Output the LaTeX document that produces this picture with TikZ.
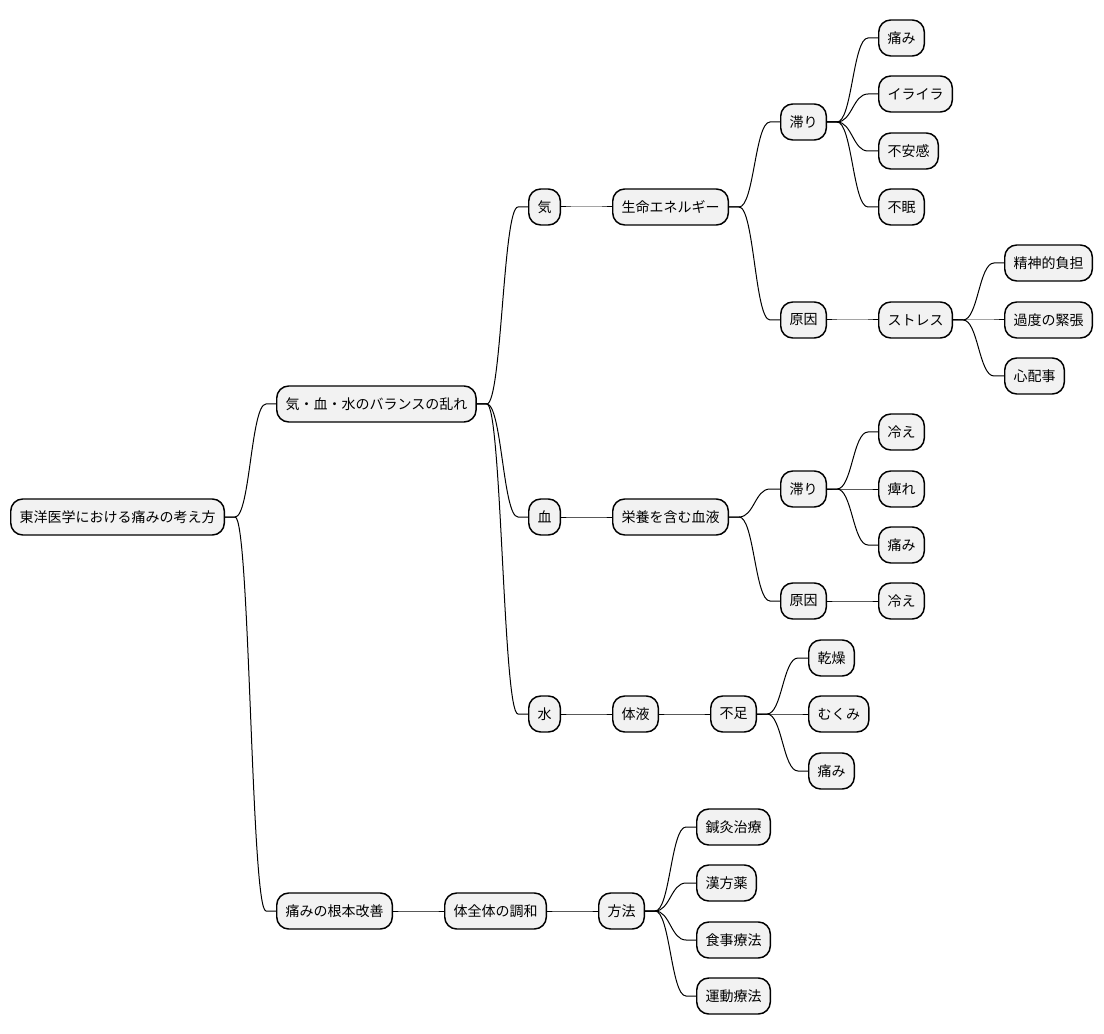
\documentclass[tikz,border=0pt]{standalone}
\usepackage{fontspec}
\setmainfont{Noto Sans CJK JP}
\usetikzlibrary{positioning}

\begin{document}
\begin{tikzpicture}[x=0.75pt,y=-0.75pt,
    topic/.style={draw,line width=1.1pt,rounded corners=9pt,fill=black!5,
      anchor=west,minimum height=27pt,inner xsep=6.6pt,inner ysep=0pt,
      font=\fontsize{10.5pt}{12pt}\selectfont},
    branch/.style={line width=0.75pt}]
  \useasboundingbox (0,0) rectangle (1104,1034);
  % root and main branches
  \node[topic](root) at (10,517){東洋医学における痛みの考え方};
  \node[topic](bal) at (276,404){気・血・水のバランスの乱れ};
  \node[topic](kon) at (276,911){痛みの根本改善};
  \node[topic](ki) at (528,207){気};
  \node[topic](ketsu) at (528,517){血};
  \node[topic](mizu) at (528,714){水};
  % ki
  \node[topic](seimei) at (612,207){生命エネルギー};
  \node[topic](kitodo) at (780,122){滞り};
  \node[topic](kigen) at (780,320){原因};
  \node[topic](kiita) at (878,38){痛み};
  \node[topic](irai) at (878,94){イライラ};
  \node[topic](fuan) at (878,151){不安感};
  \node[topic](fumin) at (878,207){不眠};
  \node[topic](stress) at (878,320){ストレス};
  \node[topic](seishin) at (1004,263){精神的負担};
  \node[topic](kinchou) at (1004,320){過度の緊張};
  \node[topic](shinpai) at (1004,376){心配事};
  % ketsu
  \node[topic](eiyo) at (612,517){栄養を含む血液};
  \node[topic](ketodo) at (780,489){滞り};
  \node[topic](kegen) at (780,601){原因};
  \node[topic](hie) at (878,432){冷え};
  \node[topic](shibire) at (878,489){痺れ};
  \node[topic](keita) at (878,545){痛み};
  \node[topic](hieb) at (878,601){冷え};
  % mizu
  \node[topic](taieki) at (612,714){体液};
  \node[topic](fusoku) at (710,714){不足};
  \node[topic](kansou) at (808,658){乾燥};
  \node[topic](mukumi) at (808,714){むくみ};
  \node[topic](mizuita) at (808,771){痛み};
  % kaizen
  \node[topic](chowa) at (444,911){体全体の調和};
  \node[topic](hoho) at (598,911){方法};
  \node[topic](shinkyu) at (696,827){鍼灸治療};
  \node[topic](kanpo) at (696,883){漢方薬};
  \node[topic](shokuji) at (696,940){食事療法};
  \node[topic](undou) at (696,996){運動療法};

  \foreach \p/\c in {root/bal,root/kon,bal/ki,bal/ketsu,bal/mizu,
      ki/seimei,seimei/kitodo,seimei/kigen,kitodo/kiita,kitodo/irai,
      kitodo/fuan,kitodo/fumin,kigen/stress,stress/seishin,stress/kinchou,
      stress/shinpai,ketsu/eiyo,eiyo/ketodo,eiyo/kegen,ketodo/hie,
      ketodo/shibire,ketodo/keita,kegen/hieb,mizu/taieki,taieki/fusoku,
      fusoku/kansou,fusoku/mukumi,fusoku/mizuita,kon/chowa,chowa/hoho,
      hoho/shinkyu,hoho/kanpo,hoho/shokuji,hoho/undou}
    \draw[branch] (\p.east) -- ++(10,0) .. controls +(15,0) and +(-15,0)
      .. ([xshift=-7.5pt]\c.west) -- (\c.west);
\end{tikzpicture}
\end{document}
